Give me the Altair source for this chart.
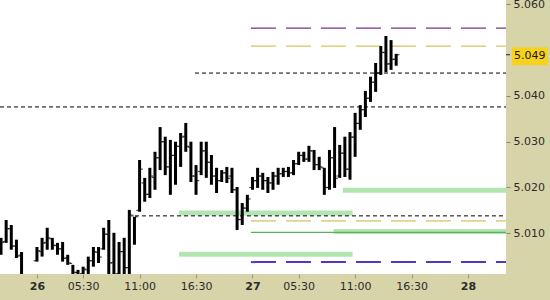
import altair as alt
import pandas as pd

# ---- 30-minute OHLC bars (slot 0 = start of day 26, 42 slots per day) ----
slots = [-7, -6, -5, -4, -3,
         0, 1, 2, 3, 4, 5, 6, 7, 8, 9, 10, 11, 12, 13, 14, 15, 16, 17, 18, 19,
         20, 21, 22, 23, 24, 25, 26, 27, 28, 29, 30, 31, 32, 33, 34, 35, 36, 37, 38, 39,
         40, 41, 42, 43, 44, 45, 46, 47, 48, 49, 50, 51, 52, 53, 54, 55, 56, 57, 58, 59,
         60, 61, 62, 63, 64, 65, 66, 67, 68, 69, 70]
opens = [5.0058, 5.0082, 5.0110, 5.0072, 5.0052,
         5.0040, 5.0060, 5.0080, 5.0088, 5.0073, 5.0066, 5.0046, 5.0034, 5.0014, 5.0012,
         5.0020, 5.0040, 5.0058, 5.0066, 5.0098, 5.0036, 5.0012, 5.0060, 5.0025, 5.0138,
         5.0150, 5.0210, 5.0185, 5.0222, 5.0265, 5.0300, 5.0245, 5.0270, 5.0290, 5.0312,
         5.0288, 5.0225, 5.0235, 5.0280, 5.0255, 5.0225, 5.0215, 5.0232, 5.0225, 5.0195,
         5.0130, 5.0155, 5.0200, 5.0215, 5.0225, 5.0215, 5.0210, 5.0225, 5.0230, 5.0235,
         5.0232, 5.0252, 5.0270, 5.0262, 5.0280, 5.0250, 5.0243, 5.0200, 5.0265, 5.0225,
         5.0275, 5.0240, 5.0310, 5.0340, 5.0370, 5.0395, 5.0430, 5.0450, 5.0495, 5.0470,
         5.0480]
highs = [5.0090, 5.0129, 5.0118, 5.0086, 5.0059,
         5.0070, 5.0090, 5.0112, 5.0090, 5.0079, 5.0081, 5.0053, 5.0031, 5.0020, 5.0027,
         5.0049, 5.0070, 5.0070, 5.0112, 5.0129, 5.0101, 5.0081, 5.0090, 5.0151, 5.0136,
         5.0260, 5.0221, 5.0243, 5.0278, 5.0332, 5.0311, 5.0304, 5.0300, 5.0319, 5.0341,
         5.0300, 5.0249, 5.0300, 5.0300, 5.0271, 5.0243, 5.0238, 5.0245, 5.0243, 5.0201,
         5.0166, 5.0184, 5.0223, 5.0243, 5.0232, 5.0223, 5.0234, 5.0243, 5.0243, 5.0245,
         5.0260, 5.0278, 5.0278, 5.0291, 5.0282, 5.0267, 5.0243, 5.0282, 5.0332, 5.0293,
         5.0311, 5.0321, 5.0363, 5.0380, 5.0411, 5.0442, 5.0472, 5.0509, 5.0531, 5.0522,
         5.0492]
lows = [5.0053, 5.0079, 5.0064, 5.0046, 4.9990,
        5.0038, 5.0049, 5.0064, 5.0064, 5.0053, 5.0038, 5.0031, 5.0008, 4.9995, 5.0010,
        4.9998, 5.0027, 5.0035, 5.0064, 4.9990, 4.9985, 4.9985, 4.9985, 4.9990, 5.0075,
        5.0147, 5.0169, 5.0177, 5.0195, 5.0238, 5.0227, 5.0184, 5.0206, 5.0245, 5.0278,
        5.0212, 5.0184, 5.0227, 5.0221, 5.0206, 5.0188, 5.0212, 5.0210, 5.0188, 5.0107,
        5.0118, 5.0147, 5.0195, 5.0199, 5.0195, 5.0188, 5.0195, 5.0206, 5.0223, 5.0223,
        5.0227, 5.0249, 5.0256, 5.0256, 5.0238, 5.0238, 5.0184, 5.0195, 5.0199, 5.0221,
        5.0223, 5.0217, 5.0267, 5.0326, 5.0354, 5.0387, 5.0409, 5.0446, 5.0452, 5.0457,
        5.0466]
closes = [5.0080, 5.0110, 5.0072, 5.0050, 5.0000,
          5.0062, 5.0078, 5.0090, 5.0074, 5.0066, 5.0045, 5.0035, 5.0015, 5.0004, 5.0022,
          5.0040, 5.0060, 5.0048, 5.0098, 5.0035, 5.0010, 5.0060, 5.0025, 5.0140, 5.0136,
          5.0240, 5.0185, 5.0225, 5.0265, 5.0300, 5.0245, 5.0270, 5.0290, 5.0310, 5.0290,
          5.0225, 5.0215, 5.0280, 5.0255, 5.0225, 5.0215, 5.0232, 5.0220, 5.0195, 5.0130,
          5.0155, 5.0175, 5.0215, 5.0225, 5.0215, 5.0210, 5.0225, 5.0230, 5.0235, 5.0232,
          5.0252, 5.0270, 5.0262, 5.0280, 5.0250, 5.0245, 5.0200, 5.0265, 5.0220, 5.0275,
          5.0240, 5.0310, 5.0340, 5.0370, 5.0395, 5.0430, 5.0450, 5.0495, 5.0470, 5.0480,
          5.0490]

last_price = [5.049]

# ---- time axis ----
tick_slots = [0, 9, 20, 31, 42, 51, 62, 73, 84]
tick_labels = ["26", "05:30", "11:00", "16:30", "27", "05:30", "11:00", "16:30", "28"]
day_slots = [0, 42, 84]

# ---- price axis ----
price_ticks = [5.010, 5.020, 5.030, 5.040, 5.060]

# ---- horizontal levels (value, first slot, last slot) ----
x_lo, x_hi = -7.2, 91.4
y_lo, y_hi = 5.0011, 5.06096

black_levels = [5.0376, 5.0450, 5.0138]
black_start = [x_lo, 30.8, 19.1]

purple_levels = [5.0548]
purple_start = [41.7]

gold_levels = [5.0509, 5.0127]
gold_start = [41.7, 41.7]

violet_levels = [5.0037]
violet_start = [41.7]

zone_levels = [5.0194, 5.0144, 5.0104, 5.0054]
zone_start = [59.6, 27.7, 57.8, 27.7]
zone_end = [x_hi, 61.5, x_hi, 61.5]

thin_green_levels = [5.0102]
thin_green_start = [41.7]

FONT = "DejaVu Sans"
BEIGE = "#d7d4a9"

bars = pd.DataFrame({"slot": slots, "open": opens, "high": highs,
                     "low": lows, "close": closes})

xscale = alt.Scale(domain=[x_lo, x_hi], nice=False, zero=False)
yscale = alt.Scale(domain=[y_lo, y_hi], nice=False, zero=False)

label_expr = "[" + ",".join("'%s'" % t for t in tick_labels) + "][indexof([" + \
    ",".join(str(s) for s in tick_slots) + "], datum.value)]"
day_test = "indexof([" + ",".join(str(s) for s in day_slots) + "], datum.value) >= 0"

xaxis = alt.Axis(values=tick_slots, labelExpr=label_expr, orient="bottom",
                 title=None, grid=False, domain=False, tickSize=4,
                 tickColor="#9a9878", labelColor="#2b2b2b", labelFont=FONT,
                 labelFontSize=11, labelPadding=2, labelFlush=False,
                 labelOverlap=False,
                 labelFontWeight={"condition": {"test": day_test, "value": "bold"},
                                  "value": "normal"})
yaxis = alt.Axis(values=price_ticks, format=".3f", orient="right", title=None,
                 grid=False, domain=False, tickSize=4, tickColor="#8a8870",
                 labelColor="#2b2b2b", labelFont=FONT, labelFontSize=11,
                 labelPadding=3, labelFlush=False, labelOverlap=False)


def X(field):
    return alt.X(field, type="quantitative", scale=xscale, axis=xaxis)


def Y(field):
    return alt.Y(field, type="quantitative", scale=yscale, axis=yaxis)


def level_layer(levels, starts, ends, **mark):
    df = pd.DataFrame({"level": levels, "start": starts, "end": ends})
    return alt.Chart(df).mark_rule(clip=True, **mark).encode(
        x=X("start"), x2="end", y=Y("level"))


zones = level_layer(zone_levels, zone_start, zone_end,
                    color="#b3e5b3", strokeWidth=5)
thin_green = level_layer(thin_green_levels, thin_green_start,
                         [x_hi] * len(thin_green_levels),
                         color="#55b655", strokeWidth=1.3)
black = level_layer(black_levels, black_start, [x_hi] * len(black_levels),
                    color="#000000", strokeWidth=1, strokeDash=[4, 3])
purple = level_layer(purple_levels, purple_start, [x_hi] * len(purple_levels),
                     color="#7e2f8f", strokeWidth=1.3, strokeDash=[25, 10])
gold = level_layer(gold_levels, gold_start, [x_hi] * len(gold_levels),
                   color="#dcc060", strokeWidth=1.3, strokeDash=[25, 10])
violet = level_layer(violet_levels, violet_start, [x_hi] * len(violet_levels),
                     color="#5535c8", strokeWidth=2, strokeDash=[25, 10])

base = alt.Chart(bars)
hl = base.mark_rule(color="black", strokeWidth=3, clip=True).encode(
    x=X("slot"), y=Y("low"), y2="high")
open_tick = base.mark_tick(orient="horizontal", color="black", size=2.5,
                           thickness=1.2, xOffset=-2, clip=True).encode(
    x=X("slot"), y=Y("open"))
close_tick = base.mark_tick(orient="horizontal", color="black", size=2.5,
                            thickness=1.2, xOffset=2, clip=True).encode(
    x=X("slot"), y=Y("close"))

last = alt.Chart(pd.DataFrame({"price": last_price}))
last_mark = last.mark_rule(color="#222222", strokeWidth=1).encode(
    x=alt.value(506), x2=alt.value(510), y=Y("price"))
last_box = last.mark_point(
    shape="M-1,-0.5L1,-0.5L1,0.5L-1,0.5Z", size=1296, filled=True,
    color="#f6d21c", opacity=1, yOffset=1.5).encode(
    x=alt.value(530), y=Y("price"))
last_text = last.mark_text(align="left", baseline="middle", font=FONT,
                           fontSize=11, color="#1a1a1a", yOffset=1.5).encode(
    x=alt.value(514), y=Y("price"), text=alt.Text("price:Q", format=".3f"))

chart = alt.layer(
    zones, thin_green, black, purple, gold, violet,
    hl, open_tick, close_tick, last_mark, last_box, last_text
).properties(
    width=506, height=274,
    padding={"left": 0, "top": 0, "right": 44, "bottom": 26},
    autosize=alt.AutoSizeParams(type="none"),
    background=BEIGE,
).configure_view(fill="white", strokeWidth=0)

chart.save("out.html", embed_options={"renderer": "svg", "actions": False})
